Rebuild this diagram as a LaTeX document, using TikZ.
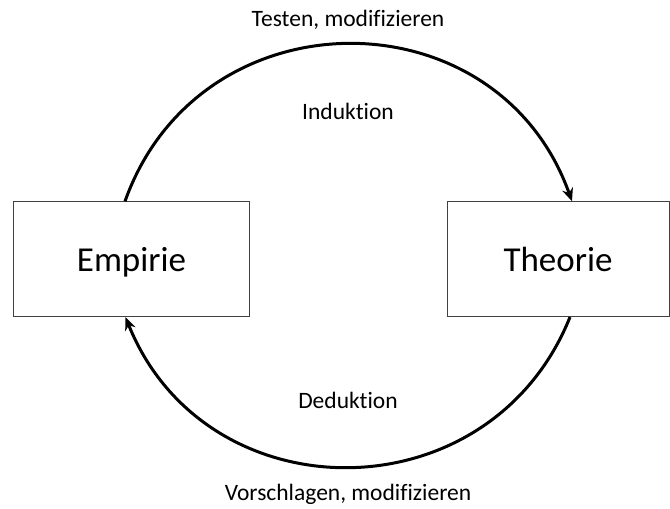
\documentclass[tikz,border=0pt]{standalone}
\usepackage{fontspec}
\setmainfont{Carlito}[Ligatures=NoCommon]
\usetikzlibrary{arrows.meta}
\begin{document}
\begin{tikzpicture}[x=1pt,y=1pt]
      % Define styles for nodes
      \tikzstyle{boxnode} = [draw=black!75, rectangle, line width=0.8pt,
      minimum height=115pt, fill=white,
      text height=25pt, text depth=0pt, font=\fontsize{35}{42}\selectfont]
      \tikzstyle{lbl} = [anchor=base, font=\fontsize{23.5}{28}\selectfont]
      \tikzstyle{arcline} = [line width=3pt, -{Stealth[length=13pt,width=11pt]}]

      \useasboundingbox (0,0) rectangle (670,509);

      % The two boxes
      \node[boxnode, minimum width=236pt] (empirie) at (131.5,249.8) {Empirie};
      \node[boxnode, minimum width=222pt] (theorie) at (558,249.8) {Theorie};

      % Ends of the arcs
      \coordinate (top1) at ([xshift=-6.5pt]empirie.north);
      \coordinate (top2) at ([xshift=14pt]theorie.north);
      \coordinate (bot1) at ([xshift=12pt]theorie.south);
      \coordinate (bot2) at ([xshift=-6pt]empirie.south);

      % Arcs
      \draw[arcline] (top1) to[out=70.4,in=109.6,looseness=1.275] (top2);
      \draw[arcline] (bot1) to[out=-111.9,in=-68.1,looseness=1.241] (bot2);

      % Texts above and below
      \node[lbl] (testen) at (348,482.3) {Testen, modifizieren};
      \node[lbl] (induktion) at (348,389) {Induktion};
      \node[lbl] (deduktion) at (348,100.7) {Deduktion};
      \node[lbl] (vorschlagen) at (348,8.3) {Vorschlagen, modifizieren};
\end{tikzpicture}
\end{document}
